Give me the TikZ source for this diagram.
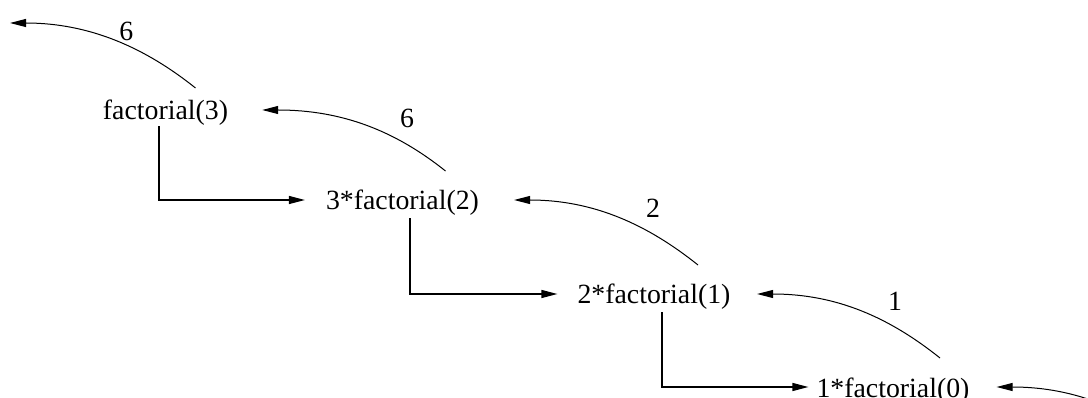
\documentclass[tikz,border=0pt]{standalone}
\usepackage{fontspec}
\setmainfont{Liberation Serif}
\usetikzlibrary{arrows.meta}
\begin{document}
\begin{tikzpicture}[x=1pt,y=-1pt,
  call/.style={font=\fontsize{27.8}{30}\selectfont, inner sep=0pt, text height=26pt, text depth=6pt},
  lbl/.style={font=\fontsize{27.8}{30}\selectfont, inner sep=0pt},
  link/.style={line width=1.3pt, -{Triangle[length=16pt,width=8pt]}},
  ret/.style={line width=1pt, -{Triangle[length=16pt,width=8pt]}}]
\useasboundingbox (0,0) rectangle (1088,398);
\clip (0,0) rectangle (1088,398);
\node[call] (f3) at (165.5,110) {factorial(3)};
\node[call] (f2) at (402.5,200) {3*factorial(2)};
\node[call] (f1) at (654,294) {2*factorial(1)};
\node[call] (f0) at (893,387) {1*factorial(0)};
\coordinate (top) at (10,23);
\coordinate (s5) at (1180,451);
% calls
\draw[link, shorten >=21pt] ([xshift=-6.5pt]f3.south) |- (f2.west);
\draw[link, shorten >=20pt, shorten <=2pt] ([xshift=7.5pt]f2.south) |- (f1.west);
\draw[link, shorten >=8pt, shorten <=2pt] ([xshift=8pt]f1.south) |- (f0.west);
% returns
\draw[ret] ([shift={(30,-32)}]f3.base) .. controls +(-50,-40) and +(80,0) .. (top)
  node[lbl, pos=0.43, above=4pt] {6};
\draw[ret] ([shift={(43,-39)}]f2.base) .. controls +(-50,-40) and +(80,0) .. ([xshift=34pt]f3.east)
  node[lbl, pos=0.25, above=16pt] {6};
\draw[ret] ([shift={(44,-39)}]f1.base) .. controls +(-50,-40) and +(80,0) .. ([xshift=35pt]f2.east)
  node[lbl, pos=0.29, above=16pt] {2};
\draw[ret] ([shift={(47,-39)}]f0.base) .. controls +(-50,-40) and +(80,0) .. ([xshift=26.5pt]f1.east)
  node[lbl, pos=0.29, above=16pt] {1};
\draw[ret] (s5) .. controls +(-50,-40) and +(80,0) .. ([xshift=27pt]f0.east);
\end{tikzpicture}
\end{document}
